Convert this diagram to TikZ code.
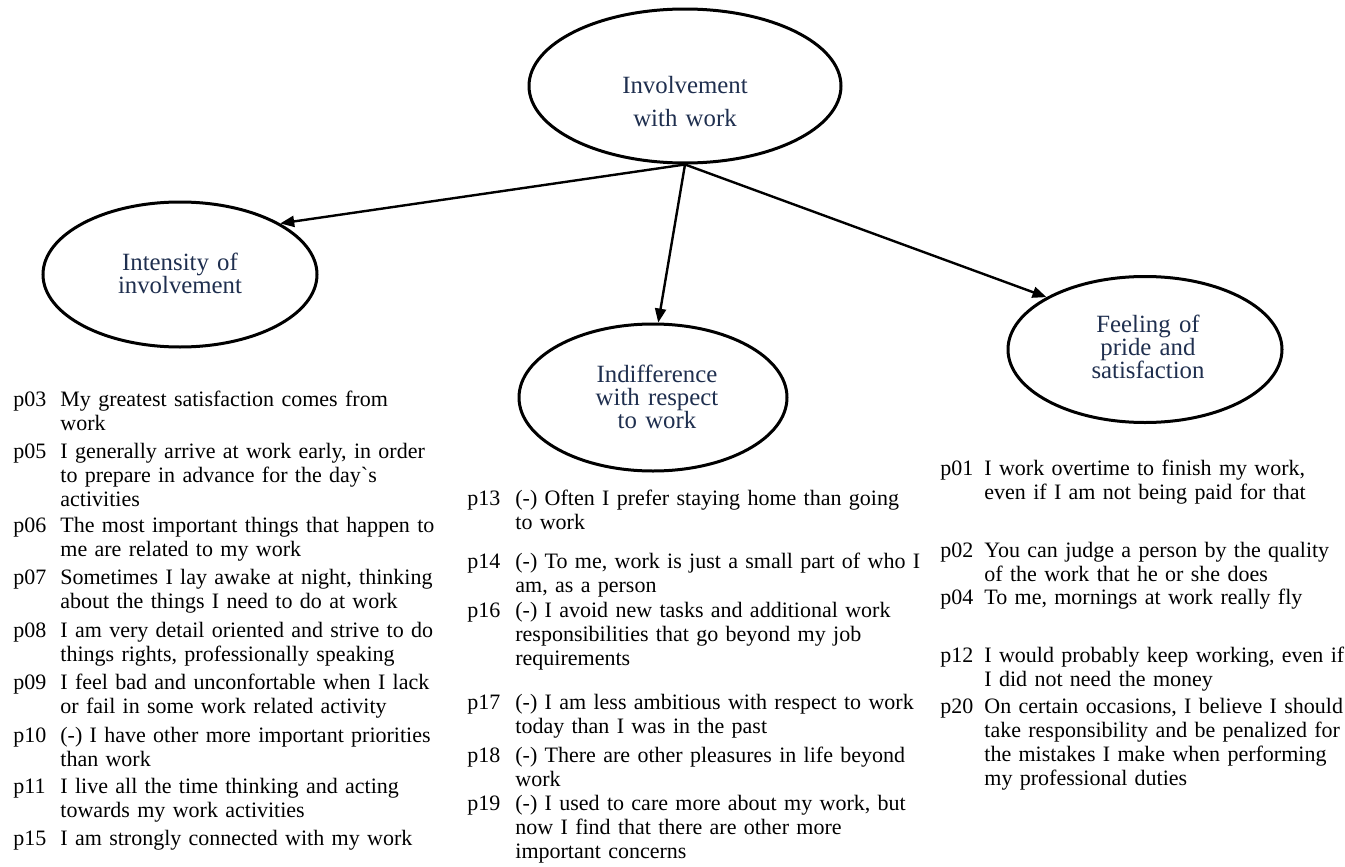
\documentclass[tikz,border=0pt]{standalone}
\usepackage{fontspec}
\setmainfont{Liberation Serif}
\usetikzlibrary{shapes.geometric,arrows.meta}
\definecolor{navy}{HTML}{1F2F4F}
\begin{document}
\begin{tikzpicture}[x=0.5pt,y=-0.5pt,
  ell/.style={draw, ellipse, line width=1.5pt, inner sep=0pt},
  elab/.style={text=navy, font=\fontsize{12.4}{11.5}\selectfont, align=center, text width=90pt, anchor=base, inner sep=0pt},
  num/.style={anchor=base west, inner sep=0pt, font=\fontsize{11}{12}\selectfont},
  item/.style={anchor=base west, inner sep=0pt, font=\fontsize{11}{12}\selectfont, align=left, text width=220pt},
  arr/.style={-{Triangle[length=7pt,width=5.5pt]}, line width=1.2pt}]
\useasboundingbox[fill=white] (0,0) rectangle (1345,867);

% ellipses
\node[ell, minimum width=156pt, minimum height=77pt] (top) at (685,86) {};
\node[ell, minimum width=137pt, minimum height=72.5pt] (int) at (180,274.5) {};
\node[ell, minimum width=134pt, minimum height=73.5pt] (ind) at (653,397.5) {};
\node[ell, minimum width=137pt, minimum height=73pt] (fel) at (1145,349.5) {};

\node[elab, font=\fontsize{12.4}{16.5}\selectfont] (topt) at (685,93) {Involvement\\with work};
\node[elab] (intt) at (180,270) {Intensity of\\involvement};
\node[elab] (indt) at (657,382) {Indifference\\with respect\\to work};
\node[elab] (felt) at (1148,332) {Feeling of\\pride and\\satisfaction};

% arrows
\draw[arr] (top.south) -- (int.27);
\draw[arr] (top.south) -- (ind.86);
\draw[arr] (top.south) -- (fel.152);

% left list
\node[num] (l03) at (13,406) {p03};
\node[item] (t03) at (60,406) {My greatest satisfaction comes from\\work};
\node[num] (l05) at (13,458) {p05};
\node[item] (t05) at (60,458) {I generally arrive at work early, in order\\to prepare in advance for the day\textasciigrave s\\activities};
\node[num] (l06) at (13,532) {p06};
\node[item] (t06) at (60,532) {The most important things that happen to\\me are related to my work};
\node[num] (l07) at (13,584) {p07};
\node[item] (t07) at (60,584) {Sometimes I lay awake at night, thinking\\about the things I need to do at work};
\node[num] (l08) at (13,637) {p08};
\node[item] (t08) at (60,637) {I am very detail oriented and strive to do\\things rights, professionally speaking};
\node[num] (l09) at (13,689) {p09};
\node[item] (t09) at (60,689) {I feel bad and unconfortable when I lack\\or fail in some work related activity};
\node[num] (l10) at (13,742) {p10};
\node[item] (t10) at (60,742) {(-) I have other more important priorities\\than work};
\node[num] (l11) at (13,793) {p11};
\node[item] (t11) at (60,793) {I live all the time thinking and acting\\towards my work activities};
\node[num] (l15) at (13,845) {p15};
\node[item] (t15) at (60,845) {I am strongly connected with my work};

% middle list
\node[num] (l13) at (467,505) {p13};
\node[item] (t13) at (515,505) {(-) Often I prefer staying home than going\\to work};
\node[num] (l14) at (467,568) {p14};
\node[item] (t14) at (515,568) {(-) To me, work is just a small part of who I\\am, as a person};
\node[num] (l16) at (467,617) {p16};
\node[item] (t16) at (515,617) {(-) I avoid new tasks and additional work\\responsibilities that go beyond my job\\requirements};
\node[num] (l17) at (467,709) {p17};
\node[item] (t17) at (515,709) {(-) I am less ambitious with respect to work\\today than I was in the past};
\node[num] (l18) at (467,762) {p18};
\node[item] (t18) at (515,762) {(-) There are other pleasures in life beyond\\work};
\node[num] (l19) at (467,810) {p19};
\node[item] (t19) at (515,810) {(-) I used to care more about my work, but\\now I find that there are other more\\important concerns};

% right list
\node[num] (l01) at (940,475) {p01};
\node[item] (t01) at (984,475) {I work overtime to finish my work,\\even if I am not being paid for that};
\node[num] (l02) at (940,557) {p02};
\node[item] (t02) at (984,557) {You can judge a person by the quality\\of the work that he or she does};
\node[num] (l04) at (940,604) {p04};
\node[item] (t04) at (984,604) {To me, mornings at work really fly};
\node[num] (l12) at (940,662) {p12};
\node[item] (t12) at (984,662) {I would probably keep working, even if\\I did not need the money};
\node[num] (l20) at (940,713) {p20};
\node[item] (t20) at (984,713) {On certain occasions, I believe I should\\take responsibility and be penalized for\\the mistakes I make when performing\\my professional duties};
\end{tikzpicture}
\end{document}
